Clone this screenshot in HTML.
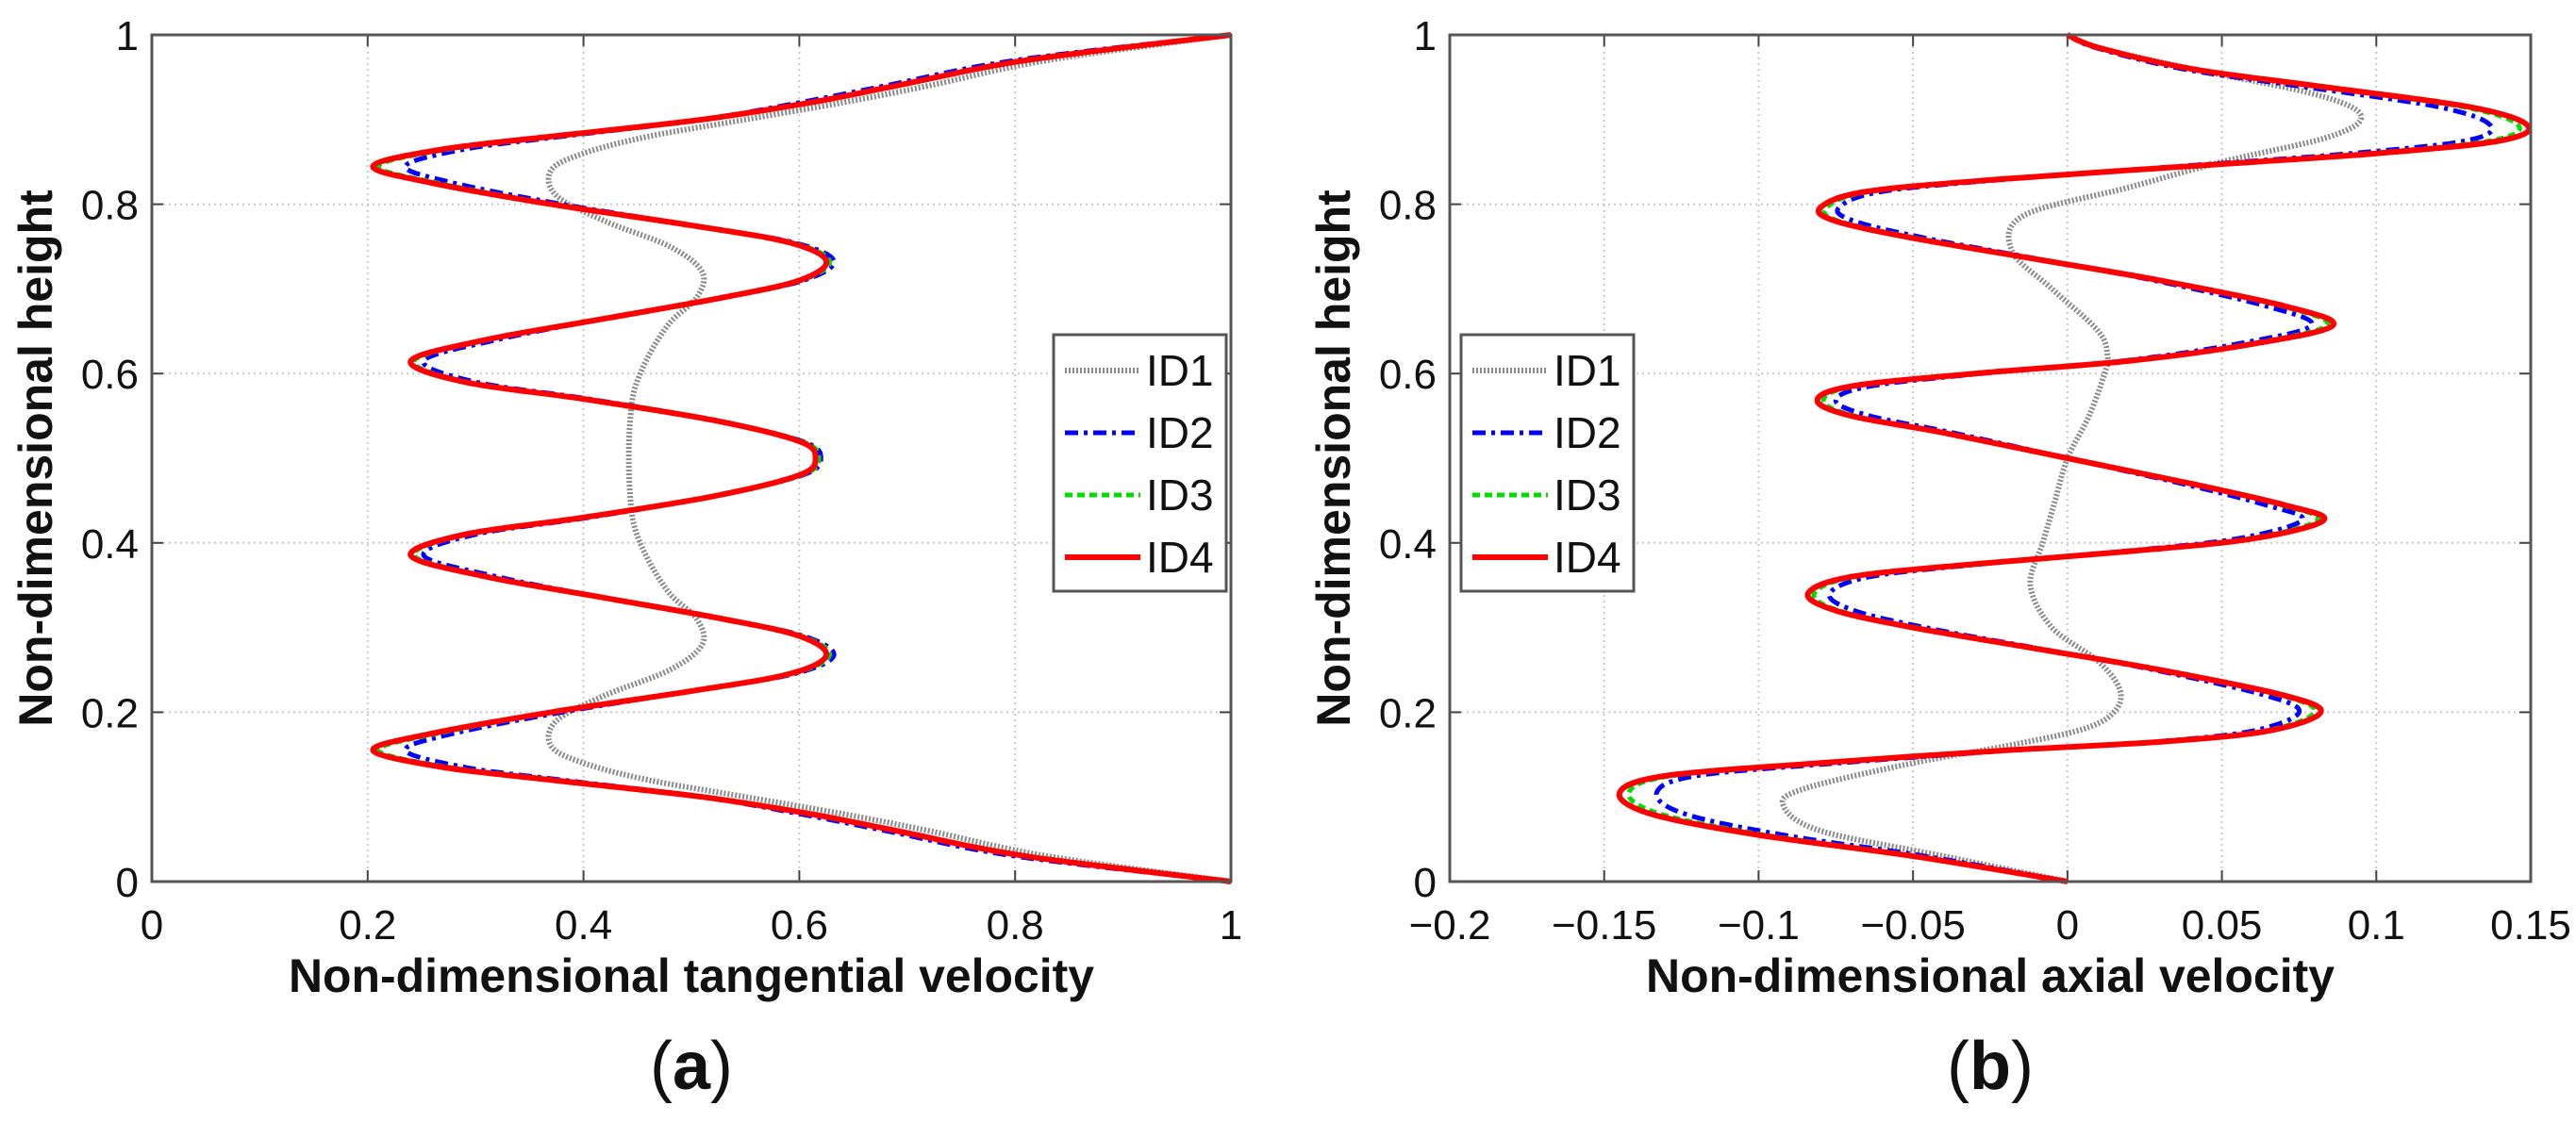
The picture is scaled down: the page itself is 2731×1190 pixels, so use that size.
<!DOCTYPE html>
<html><head><meta charset="utf-8"><style>
html,body{margin:0;padding:0;background:#fff;}
svg{display:block;}
text{font-family:"Liberation Sans",Arial,sans-serif;}
</style></head><body>
<svg id="fig" width="2731" height="1190" viewBox="0 0 2731 1190" xmlns="http://www.w3.org/2000/svg"></svg>
<script>
// ---------- Panel (a): tangential velocity ----------
const aY4 = [0,0.03,0.06,0.08,0.10,0.12,0.135,0.155,0.175,0.2,0.225,0.245,0.267,0.29,0.31,0.335,0.36,0.385,0.41,0.43,0.455,0.48,0.5,0.52,0.545,0.57,0.59,0.615,0.64,0.665,0.69,0.71,0.733,0.755,0.775,0.8,0.825,0.845,0.865,0.88,0.9,0.92,0.94,0.97,1];
const aX4 = [1,0.81,0.69,0.61,0.51,0.37,0.27,0.205,0.26,0.37,0.5,0.59,0.625,0.6,0.53,0.42,0.31,0.24,0.29,0.40,0.52,0.6,0.615,0.6,0.52,0.40,0.29,0.24,0.31,0.42,0.53,0.6,0.625,0.59,0.5,0.37,0.26,0.205,0.27,0.37,0.51,0.61,0.69,0.81,1];
const aX3 = [1,0.81,0.69,0.61,0.51,0.375,0.275,0.21,0.265,0.372,0.5,0.592,0.628,0.602,0.53,0.42,0.312,0.243,0.292,0.40,0.52,0.602,0.618,0.602,0.52,0.40,0.292,0.243,0.312,0.42,0.53,0.602,0.628,0.592,0.5,0.372,0.265,0.21,0.275,0.375,0.51,0.61,0.69,0.81,1];
const aX2 = [1,0.80,0.68,0.60,0.51,0.38,0.29,0.235,0.28,0.38,0.5,0.594,0.632,0.604,0.53,0.42,0.32,0.252,0.30,0.405,0.52,0.603,0.62,0.603,0.52,0.405,0.30,0.252,0.32,0.42,0.53,0.604,0.632,0.594,0.5,0.38,0.28,0.235,0.29,0.38,0.51,0.60,0.68,0.80,1];
const aY1 = [0,0.03,0.06,0.08,0.10,0.12,0.14,0.16,0.19,0.22,0.25,0.28,0.31,0.34,0.38,0.42,0.46,0.5,0.54,0.58,0.62,0.66,0.69,0.72,0.75,0.78,0.81,0.84,0.86,0.88,0.90,0.92,0.94,0.97,1];
const aX1 = [1,0.83,0.72,0.64,0.55,0.46,0.40,0.37,0.375,0.42,0.48,0.51,0.505,0.48,0.46,0.447,0.443,0.442,0.443,0.447,0.46,0.48,0.505,0.51,0.48,0.42,0.375,0.37,0.40,0.46,0.55,0.64,0.72,0.83,1];
const aXTicks = [0,0.2,0.4,0.6,0.8,1];
const aXTickLabels = ["0","0.2","0.4","0.6","0.8","1"];
const yTicks = [0,0.2,0.4,0.6,0.8,1];
const yTickLabels = ["0","0.2","0.4","0.6","0.8","1"];

// ---------- Panel (b): axial velocity ----------
const bY4 = [0,0.03,0.055,0.08,0.105,0.125,0.14,0.155,0.165,0.178,0.2,0.22,0.25,0.275,0.3,0.32,0.34,0.36,0.375,0.39,0.405,0.427,0.445,0.47,0.5,0.53,0.55,0.568,0.585,0.6,0.615,0.635,0.657,0.68,0.71,0.735,0.76,0.78,0.796,0.815,0.83,0.845,0.86,0.875,0.893,0.915,0.94,0.96,0.985,1];
const bX4 = [0,-0.05,-0.1,-0.135,-0.145,-0.13,-0.08,-0.02,0.03,0.065,0.082,0.07,0.03,-0.01,-0.05,-0.075,-0.084,-0.07,-0.03,0.02,0.06,0.083,0.07,0.04,0,-0.04,-0.07,-0.081,-0.07,-0.03,0.02,0.06,0.086,0.07,0.03,-0.01,-0.05,-0.075,-0.08,-0.065,-0.02,0.04,0.1,0.14,0.149,0.13,0.08,0.04,0.01,0];
const bX3 = [0,-0.049,-0.098,-0.132,-0.142,-0.128,-0.079,-0.02,0.03,0.064,0.08,0.069,0.03,-0.01,-0.049,-0.074,-0.082,-0.069,-0.03,0.02,0.059,0.081,0.069,0.04,0,-0.04,-0.069,-0.079,-0.069,-0.03,0.02,0.059,0.084,0.069,0.03,-0.01,-0.049,-0.074,-0.078,-0.064,-0.02,0.039,0.098,0.137,0.146,0.128,0.079,0.04,0.01,0];
const bX2 = [0,-0.046,-0.092,-0.124,-0.133,-0.12,-0.074,-0.018,0.028,0.06,0.075,0.064,0.028,-0.009,-0.046,-0.069,-0.077,-0.064,-0.028,0.018,0.055,0.076,0.064,0.037,0,-0.037,-0.064,-0.075,-0.064,-0.028,0.018,0.055,0.079,0.064,0.028,-0.009,-0.046,-0.069,-0.074,-0.06,-0.018,0.037,0.092,0.129,0.137,0.12,0.074,0.037,0.009,0];
const bY1 = [0,0.03,0.06,0.09,0.11,0.14,0.16,0.18,0.2,0.226,0.26,0.3,0.35,0.4,0.45,0.5,0.55,0.6,0.62,0.65,0.7,0.745,0.787,0.82,0.85,0.88,0.905,0.93,0.96,0.985,1];
const bX1 = [0,-0.04,-0.08,-0.092,-0.085,-0.05,-0.02,0.005,0.015,0.017,0.01,-0.005,-0.012,-0.008,-0.004,0,0.007,0.012,0.013,0.01,-0.005,-0.018,-0.014,0.02,0.05,0.085,0.095,0.08,0.04,0.01,0];
const bXTicks = [-0.2,-0.15,-0.1,-0.05,0,0.05,0.1,0.15];
const bXTickLabels = ["\u22120.2","\u22120.15","\u22120.1","\u22120.05","0","0.05","0.1","0.15"];

const NS="http://www.w3.org/2000/svg";
const svg=document.getElementById('fig');
function el(tag,attrs,parent){const e=document.createElementNS(NS,tag);for(const k in attrs)e.setAttribute(k,attrs[k]);(parent||svg).appendChild(e);return e;}

function smoothPath(pts){
  let d="M"+pts[0][0].toFixed(2)+","+pts[0][1].toFixed(2);
  for(let i=0;i<pts.length-1;i++){
    const p0=pts[Math.max(0,i-1)],p1=pts[i],p2=pts[i+1],p3=pts[Math.min(pts.length-1,i+2)];
    const c1=[p1[0]+(p2[0]-p0[0])/6,p1[1]+(p2[1]-p0[1])/6];
    const c2=[p2[0]-(p3[0]-p1[0])/6,p2[1]-(p3[1]-p1[1])/6];
    d+=" C"+c1[0].toFixed(2)+","+c1[1].toFixed(2)+" "+c2[0].toFixed(2)+","+c2[1].toFixed(2)+" "+p2[0].toFixed(2)+","+p2[1].toFixed(2);
  }
  return d;
}

function panel(cfg){
  const {L,R,T,B,xmin,xmax,xt,xtl,series,xlabel,letter,legX,key}=cfg;
  const sx=v=>L+(v-xmin)/(xmax-xmin)*(R-L);
  const sy=v=>B-(v-0)/(1-0)*(B-T);
  const g=el('g',{});
  
  
  xt.forEach((v,i)=>{
    const x=sx(v);
    if(i>0&&i<xt.length-1){const gl=el('line',{x1:x,x2:x,y1:T,y2:B,stroke:'#c8c8c8','stroke-width':2,'stroke-dasharray':'2 4'},g);
      }
    el('line',{x1:x,x2:x,y1:B,y2:B-12,stroke:'#444','stroke-width':2},g);
    el('line',{x1:x,x2:x,y1:T,y2:T+12,stroke:'#444','stroke-width':2},g);
    const t=el('text',{x:x,y:B+61,'font-size':44,'text-anchor':'middle',fill:'#111'},g);
    t.textContent=xtl[i];
    
  });
  yTicks.forEach((v,i)=>{
    const y=sy(v);
    if(i>0&&i<yTicks.length-1){const gl=el('line',{x1:L,x2:R,y1:y,y2:y,stroke:'#c8c8c8','stroke-width':2,'stroke-dasharray':'2 4'},g);
      }
    el('line',{x1:L,x2:L+12,y1:y,y2:y,stroke:'#444','stroke-width':2},g);
    el('line',{x1:R,x2:R-12,y1:y,y2:y,stroke:'#444','stroke-width':2},g);
    const t=el('text',{x:L-14,y:y+16,'font-size':44,'text-anchor':'end',fill:'#111'},g);
    t.textContent=yTickLabels[i];
    
  });
  series.forEach(s=>{
    const pts=s.x.map((v,i)=>[sx(v),sy(s.y[i])]);
    const p=el('path',{d:smoothPath(pts),fill:'none',stroke:s.color,'stroke-width':s.w,'stroke-dasharray':s.dash||'none','stroke-linejoin':'round'},g);
    
    
  });
  const fr=el('rect',{x:L,y:T,width:R-L,height:B-T,fill:'none',stroke:'#555','stroke-width':3},g);
  
  const xl=el('text',{x:(L+R)/2,y:B+117,'font-size':50,'font-weight':'bold','text-anchor':'middle',fill:'#111',textLength:(key==='a'?854:730),lengthAdjust:'spacingAndGlyphs'},g);
  xl.textContent=xlabel;
  
  const yl=el('text',{x:0,y:0,'font-size':50,'font-weight':'bold','text-anchor':'middle',fill:'#111',transform:`translate(${L-106},${(T+B)/2}) rotate(-90)`},g);
  yl.textContent='Non-dimensional height';
  
  const lt=el('text',{x:(L+R)/2,y:1155,'font-size':72,'text-anchor':'middle',fill:'#111','font-family':'Liberation Serif, serif'},g);
  lt.innerHTML='(<tspan font-weight="bold">'+letter+'</tspan>)';
  
  const lg=el('g',{},g);
  
  el('rect',{x:legX,y:355,width:183,height:272,fill:'#fff',stroke:'#555','stroke-width':3},lg);
  ['ID1','ID2','ID3','ID4'].forEach((nm,i)=>{
    const s=series.find(q=>q.name===nm);
    const y=393+i*66;
    const ln=el('line',{x1:legX+12,x2:legX+92,y1:y,y2:y,stroke:s.color,'stroke-width':s.w,'stroke-dasharray':s.dash||'none'},lg);
    
    const t=el('text',{x:legX+98,y:y+16,'font-size':46,fill:'#111'},lg);
    t.textContent=nm;
    
  });
}

panel({key:'a',L:161,R:1305,T:37,B:935,xmin:0,xmax:1,xt:aXTicks,xtl:aXTickLabels,
  xlabel:'Non-dimensional tangential velocity',letter:'a',legX:1117,
  series:[
    {name:'ID1',x:aX1,y:aY1,color:'#8a8a8a',w:6,dash:'2 2'},
    {name:'ID2',x:aX2,y:aY4,color:'#0000ff',w:5,dash:'14 6 4 6'},
    {name:'ID3',x:aX3,y:aY4,color:'#00dd00',w:5,dash:'8 5'},
    {name:'ID4',x:aX4,y:aY4,color:'#ff0000',w:6}
  ]});
panel({key:'b',L:1537,R:2683,T:37,B:935,xmin:-0.2,xmax:0.15,xt:bXTicks,xtl:bXTickLabels,
  xlabel:'Non-dimensional axial velocity',letter:'b',legX:1549,
  series:[
    {name:'ID1',x:bX1,y:bY1,color:'#8a8a8a',w:6,dash:'2 2'},
    {name:'ID2',x:bX2,y:bY4,color:'#0000ff',w:5,dash:'14 6 4 6'},
    {name:'ID3',x:bX3,y:bY4,color:'#00dd00',w:5,dash:'8 5'},
    {name:'ID4',x:bX4,y:bY4,color:'#ff0000',w:6}
  ]});
</script>
</body></html>
